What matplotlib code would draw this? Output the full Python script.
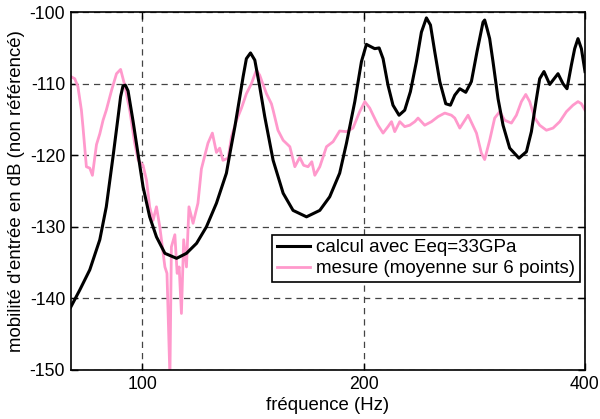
import matplotlib
matplotlib.use("Agg")
import matplotlib.pyplot as plt
from matplotlib.ticker import FixedLocator, FixedFormatter, NullLocator

plt.rcParams['font.family'] = ['Liberation Sans', 'DejaVu Sans']

# calcul avec Eeq=33GPa
calc_freq = [80, 82.3, 84.9, 87.6, 89.4, 91.3, 92.8, 93.5, 94.2, 94.9, 95.7, 97.2, 98.8,
             100.3, 102.4, 104.6, 107.4, 111.4, 114.9, 118.6, 122.3, 126.2, 130.2, 131.6,
             133.7, 135.8, 137.2, 138.6, 140.4, 142.3, 144.5, 146.8, 150.7, 155.5, 160.4,
             167.3, 174.4, 179.9, 185.6, 189.6, 194.6, 198.7, 201.8, 204.4, 207.1, 210.0,
             212.6, 215.9, 219.3, 223.5, 227.5, 231.6, 236.0, 239.7, 243.5, 246.6, 249.9,
             253.9, 258.7, 262.5, 266.1, 270.3, 275.4, 280.3, 285.3, 290.7, 292.2, 294.4,
             296.8, 299.9, 304.7, 309.5, 316.0, 325.3, 333.0, 338.2, 343.6, 347.1, 351.8,
             358.2, 361.9, 367.6, 373.4, 378.1, 383.3, 387.3, 391.3, 395.5, 400]
calc_db = [-141.2, -138.8, -136.0, -131.8, -127.2, -120.2, -114.5, -111.8, -110.3, -110.2,
           -111.0, -115.2, -120.0, -124.4, -128.6, -131.4, -133.7, -134.4, -133.7, -132.3,
           -130.0, -126.7, -122.5, -119.8, -116.0, -111.8, -109.0, -106.5, -105.7, -106.7,
           -110.4, -114.6, -120.7, -125.3, -127.7, -128.6, -127.7, -125.8, -122.5, -118.3,
           -112.5, -106.9, -104.5, -104.8, -105.1, -105.0, -106.5, -110.2, -113.0, -114.4,
           -113.7, -111.1, -106.9, -102.8, -100.8, -101.8, -105.5, -109.7, -112.8, -113.0,
           -111.6, -110.7, -111.2, -109.7, -105.5, -101.4, -101.1, -102.3, -103.7, -106.9,
           -112.1, -115.8, -119.0, -120.4, -119.5, -116.7, -112.1, -109.3, -108.3, -110.1,
           -109.5, -108.6, -110.0, -110.7, -107.4, -105.1, -103.7, -105.1, -108.3]

# mesure (moyenne sur 6 points)
mes_freq = [80, 81.0, 81.8, 82.7, 83.1, 84.0, 84.9, 85.6, 86.7, 87.6, 88.5, 89.4, 90.9,
            92.3, 93.5, 94.7, 96.2, 97.7, 98.8, 100.3, 101.4, 102.4, 103.5, 104.6, 105.7,
            107.4, 108.1, 109.1, 109.6, 110.8, 111.6, 112.3, 113.1, 113.9, 114.9, 115.8,
            117.3, 119.1, 120.4, 122.9, 124.6, 126.2, 127.5, 128.8, 130.9, 132.3, 134.4,
            136.5, 138.6, 140.8, 143.0, 144.5, 145.3, 147.6, 149.9, 150.7, 153.0, 155.5,
            158.8, 161.3, 163.8, 165.8, 168.1, 170.1, 171.7, 174.4, 178.1, 181.8, 185.6,
            189.6, 193.5, 197.6, 200.8, 203.9, 206.1, 209.3, 212.6, 215.9, 218.3, 220.5,
            224.0, 227.5, 231.1, 234.8, 237.2, 242.2, 247.4, 252.5, 257.9, 263.3, 266.1,
            270.3, 277.4, 284.8, 289.2, 292.2, 296.8, 301.5, 306.3, 311.1, 317.7, 322.7,
            327.8, 332.3, 336.4, 341.8, 347.1, 354.5, 361.9, 369.6, 377.4, 385.2, 391.3,
            395.5, 400]
mes_db = [-109.0, -109.3, -110.4, -113.7, -116.0, -121.6, -121.8, -122.8, -118.5, -117.0,
          -115.1, -113.7, -110.9, -108.6, -108.0, -110.2, -113.7, -118.3, -120.7, -121.4,
          -123.5, -127.2, -129.1, -127.2, -130.0, -135.6, -136.5, -151.0, -132.8, -131.1,
          -136.5, -135.6, -142.1, -131.8, -135.6, -127.2, -129.5, -126.7, -121.9, -118.3,
          -116.9, -119.6, -119.0, -120.7, -120.4, -117.4, -115.1, -113.4, -111.4, -110.0,
          -108.1, -108.8, -109.5, -111.4, -112.8, -113.7, -116.5, -117.9, -118.8, -121.6,
          -120.3, -121.4, -121.6, -120.9, -122.8, -121.6, -118.8, -118.1, -116.6, -116.7,
          -116.2, -113.9, -112.5, -113.4, -114.4, -115.8, -116.9, -116.0, -115.3, -116.7,
          -115.3, -116.0, -115.8, -115.3, -114.8, -115.8, -115.3, -114.6, -114.1, -114.4,
          -114.8, -116.2, -114.4, -116.9, -119.7, -120.6, -117.9, -114.8, -113.9, -115.1,
          -115.5, -114.4, -112.5, -111.5, -112.5, -114.8, -115.8, -116.5, -116.2, -115.3,
          -113.9, -113.0, -112.5, -112.8, -113.7]

x_ticks = [100, 200, 400]
x_tick_labels = ['100', '200', '400']
y_ticks = [-150, -140, -130, -120, -110, -100]
labels = ['calcul avec Eeq=33GPa', 'mesure (moyenne sur 6 points)']

fig = plt.figure(figsize=(6.0, 4.19), dpi=100)
ax = fig.add_axes([0.118, 0.117, 0.857, 0.854])

ax.plot(calc_freq, calc_db, color='black', lw=2.2, label=labels[0], zorder=3,
        solid_joinstyle='round')
ax.plot(mes_freq, mes_db, color='#ff99cc', lw=2.0, label=labels[1], zorder=2,
        solid_joinstyle='round')

ax.set_xscale('log')
ax.set_xlim(80, 400)
ax.set_ylim(-150, -100)
ax.xaxis.set_major_locator(FixedLocator(x_ticks))
ax.xaxis.set_major_formatter(FixedFormatter(x_tick_labels))
ax.xaxis.set_minor_locator(NullLocator())
ax.set_yticks(y_ticks)
ax.set_yticklabels([str(v) for v in y_ticks])

ax.grid(True, which='major', color='#444444', linestyle=(0, (5, 4)), linewidth=0.9)
ax.tick_params(direction='in', length=5, width=1, top=True, right=True,
               labelsize=12.7, pad=4, colors='black')
for s in ax.spines.values():
    s.set_linewidth(1.2)

ax.set_xlabel('fréquence (Hz)', fontsize=13.4, labelpad=3)
ax.set_ylabel("mobilité d'entrée en dB (non référencé)", fontsize=13.4, labelpad=3)

leg = ax.legend(loc='lower right', bbox_to_anchor=(0.990, 0.246), borderaxespad=0,
                prop={'size': 13.5}, frameon=True, fancybox=False, edgecolor='black',
                framealpha=1, handlelength=1.75, handletextpad=0.35, borderpad=0.25,
                labelspacing=0.2)
leg.get_frame().set_linewidth(1.2)

fig.savefig('out.png', dpi=100)
